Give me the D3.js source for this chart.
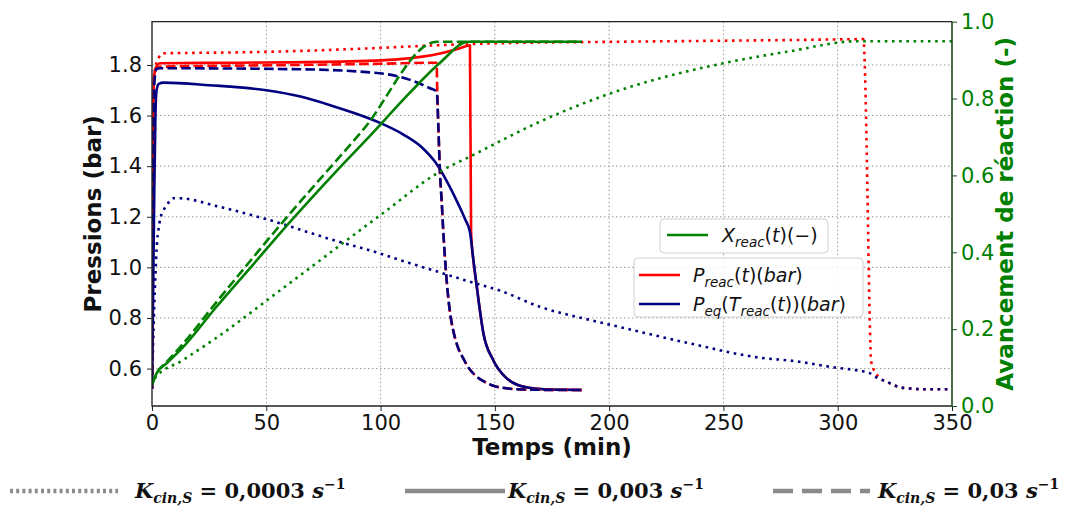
<!DOCTYPE html>
<html><head><meta charset="utf-8">
<script src="https://cdn.jsdelivr.net/npm/d3@7"></script>
<style>body{margin:0;background:#fff}svg{display:block}</style>
</head><body><svg id="c" width="1067" height="508"></svg>
<script>
// ---------- DATA ----------
const xTicks = [0, 50, 100, 150, 200, 250, 300, 350];
const yLeftTicks = [0.6, 0.8, 1.0, 1.2, 1.4, 1.6, 1.8];
const yRightTicks = [0.0, 0.2, 0.4, 0.6, 0.8, 1.0];
const kLabels = ["0,0003", "0,003", "0,03"];

// P_reac, K = 0.0003 (red dotted)  [t (min), P (bar)]
const preac_0003 = [[0,0.52],[0.3,1.2],[0.6,1.7],[1.5,1.79],[3,1.83],[5,1.846],[20,1.848],[40,1.85],[96,1.866],[125,1.878],[152,1.886],[196,1.891],[240,1.895],[284,1.899],[311.2,1.902],[312,1.75],[313,1.30],[314,0.80],[314.6,0.63],[316.3,0.587],[318,0.566],[321.4,0.548],[327.3,0.526],[333,0.52],[338.9,0.518],[350,0.518]];
// P_eq, K = 0.0003 (navy dotted)
const peq_0003 = [[0,0.52],[0.5,0.7],[1,0.85],[1.5,0.97],[2,1.07],[3,1.16],[3.5,1.187],[5,1.225],[6.4,1.245],[9.3,1.273],[12,1.273],[28.3,1.242],[50.2,1.19],[79.3,1.108],[99.75,1.055],[108.5,1.029],[127.4,0.976],[139.1,0.943],[152.25,0.908],[169.75,0.844],[191.6,0.792],[204.75,0.764],[235,0.70],[266,0.643],[280.6,0.63],[299.6,0.603],[309.75,0.591],[314,0.582],[317,0.565],[321.4,0.548],[327.3,0.526],[333,0.52],[338.9,0.518],[350,0.518]];
// P_reac, K = 0.003 (red solid)
const preac_003 = [[0,0.52],[0.3,1.2],[0.6,1.65],[1,1.76],[2,1.795],[3.5,1.807],[38.5,1.809],[82.25,1.813],[108.5,1.823],[126,1.845],[130.4,1.855],[134.75,1.866],[139.1,1.878],[139.6,1.14],[140.6,1.029],[142.1,0.923],[145,0.739],[149.3,0.633],[155.2,0.561],[160,0.535],[165,0.524],[170,0.519],[180,0.516],[188,0.515]];
// P_eq, K = 0.003 (navy solid)
const peq_003 = [[0,0.52],[0.5,0.9],[1,1.3],[1.5,1.6],[2,1.70],[3,1.725],[5,1.73],[25,1.72],[50,1.70],[65,1.675],[80,1.635],[90,1.605],[100,1.57],[110,1.525],[118,1.475],[124,1.415],[129,1.34],[134,1.25],[137,1.19],[139.1,1.14],[140.6,1.029],[142.1,0.923],[145,0.739],[149.3,0.633],[155.2,0.561],[160,0.535],[165,0.524],[170,0.519],[180,0.516],[188,0.515]];
// P_reac, K = 0.03 (red dashed)
const preac_03 = [[0,0.52],[0.3,1.2],[0.6,1.65],[1,1.76],[2,1.79],[3.5,1.793],[64,1.80],[100,1.805],[124.5,1.809],[124.8,1.70],[125.3,1.55],[126,1.372],[126.7,1.266],[127.4,1.148],[128.9,0.95],[130.4,0.82],[131.8,0.75],[134,0.68],[136.2,0.64],[138,0.61],[141.3,0.574],[145,0.55],[150,0.53],[155,0.522],[160,0.518],[170,0.516],[188,0.515]];
// P_eq, K = 0.03 (navy dashed)
const peq_03 = [[0,0.52],[0.3,1.0],[0.6,1.5],[1,1.72],[1.5,1.77],[2,1.785],[3.5,1.787],[64.75,1.783],[99.75,1.767],[112.9,1.741],[121.6,1.708],[124.6,1.694],[125.3,1.55],[126,1.372],[126.7,1.266],[127.4,1.148],[128.9,0.95],[130.4,0.82],[131.8,0.75],[134,0.68],[136.2,0.64],[138,0.61],[141.3,0.574],[145,0.55],[150,0.53],[155,0.522],[160,0.518],[170,0.516],[188,0.515]];
// X_reac (right axis)
const x_0003 = [[0,0.055],[0.6,0.068],[13.7,0.12],[28.3,0.178],[57.4,0.307],[100,0.497],[126,0.61],[139.1,0.649],[169.75,0.74],[198.9,0.81],[250,0.892],[279,0.923],[308.3,0.949],[350,0.949]];
const x_003 = [[0,0.055],[2,0.085],[6.4,0.111],[13.7,0.154],[28.3,0.259],[42.9,0.359],[60.4,0.479],[80.8,0.612],[96.8,0.712],[112,0.81],[126,0.893],[138.5,0.948],[188,0.948]];
const x_03 = [[0,0.055],[2,0.085],[6,0.112],[13,0.158],[28.3,0.271],[57.4,0.48],[92.4,0.719],[124.6,0.948],[188,0.948]];

// ---------- LAYOUT ----------
const W = 1067, H = 508;
const L = 152, R = 952, T = 21.7, B = 406;
const RED = "#ff0000", NAVY = "#000080", GREEN = "#008000";
const LW = 2.6;
const styles = { dot: "2.6,4.6", solid: null, dash: "9.6,4.2" };

const svg = d3.select("#c");
svg.append("rect").attr("width", W).attr("height", H).attr("fill", "#fff");

const x = d3.scaleLinear().domain([0, 350]).range([L, R]);
const yL = d3.scaleLinear().domain([0.452, 1.971]).range([B, T]);
const yR = d3.scaleLinear().domain([0, 1]).range([B, T]);

// grid
const grid = svg.append("g").attr("stroke", "#9a9a9a").attr("stroke-width", 1).attr("stroke-dasharray", "1.5,2.5");
grid.selectAll("line.v").data(xTicks).join("line").attr("class","v")
  .attr("x1", d => x(d)).attr("x2", d => x(d)).attr("y1", T).attr("y2", B);
grid.selectAll("line.h").data(yLeftTicks).join("line").attr("class","h")
  .attr("x1", L).attr("x2", R).attr("y1", d => yL(d)).attr("y2", d => yL(d));

svg.append("defs").append("clipPath").attr("id", "clip")
  .append("rect").attr("x", L).attr("y", T).attr("width", R - L).attr("height", B - T);

const plot = svg.append("g").attr("clip-path", "url(#clip)");
const series = [
  { d: preac_0003, c: RED, s: "dot", y: yL },
  { d: peq_0003, c: NAVY, s: "dot", y: yL },
  { d: preac_003, c: RED, s: "solid", y: yL },
  { d: peq_003, c: NAVY, s: "solid", y: yL },
  { d: preac_03, c: RED, s: "dash", y: yL },
  { d: peq_03, c: NAVY, s: "dash", y: yL },
  { d: x_0003, c: GREEN, s: "dot", y: yR },
  { d: x_003, c: GREEN, s: "solid", y: yR },
  { d: x_03, c: GREEN, s: "dash", y: yR },
];
series.forEach(sr => {
  const line = d3.line().x(p => x(p[0])).y(p => sr.y(p[1])).curve(d3.curveMonotoneX);
  plot.append("path").attr("d", line(sr.d)).attr("fill", "none")
    .attr("stroke", sr.c).attr("stroke-width", LW)
    .attr("stroke-dasharray", styles[sr.s]).attr("stroke-linejoin", "round");
});

// axes
const FONT = "'DejaVu Sans', sans-serif";
const fmt = d3.format(".1f");
const axB = svg.append("g").attr("transform", `translate(0,${B})`)
  .call(d3.axisBottom(x).tickValues(xTicks).tickSize(5).tickPadding(4).tickFormat(d3.format("d")));
const axL = svg.append("g").attr("transform", `translate(${L},0)`)
  .call(d3.axisLeft(yL).tickValues(yLeftTicks).tickSize(5).tickPadding(5).tickFormat(fmt));
const axR = svg.append("g").attr("transform", `translate(${R},0)`)
  .call(d3.axisRight(yR).tickValues(yRightTicks).tickSize(5).tickPadding(4).tickFormat(fmt));
[axB, axL, axR].forEach(a => {
  a.select(".domain").remove();
  a.selectAll("text").attr("font-family", FONT).attr("font-size", 21).attr("fill", "#111");
  a.selectAll("line").attr("stroke", "#222");
});
axR.selectAll("text").attr("fill", GREEN);
axR.selectAll("line").attr("stroke", "#1f4f1f");

// spines
svg.append("path").attr("d", `M${R},${T}H${L}V${B}H${R}`).attr("fill", "none").attr("stroke", "#222").attr("stroke-width", 1.3);
svg.append("line").attr("x1", R).attr("x2", R).attr("y1", T).attr("y2", B).attr("stroke", "#1f4f1f").attr("stroke-width", 1.6);

// axis labels
svg.append("text").attr("x", (L + R) / 2).attr("y", 455).attr("text-anchor", "middle")
  .attr("font-family", FONT).attr("font-weight", "bold").attr("font-size", 23).attr("fill", "#111").text("Temps (min)");
svg.append("text").attr("transform", `translate(101,${(T + B) / 2}) rotate(-90)`).attr("text-anchor", "middle")
  .attr("font-family", FONT).attr("font-weight", "bold").attr("font-size", 23).attr("fill", "#111").text("Pressions (bar)");
svg.append("text").attr("transform", `translate(1013,${(T + B) / 2}) rotate(-90)`).attr("text-anchor", "middle")
  .attr("font-family", FONT).attr("font-weight", "bold").attr("font-size", 23).attr("fill", GREEN).text("Avancement de réaction (-)");

// legends
function mathText(g, xx, yy, parts) {
  const t = g.append("text").attr("x", xx).attr("y", yy).attr("font-family", FONT).attr("font-size", 19).attr("fill", "#111");
  let shift = 0;
  parts.forEach(p => {
    const ts = t.append("tspan").text(p.t);
    if (p.i) ts.attr("font-style", "italic");
    const want = p.sub ? 5 : 0;
    if (want !== shift) { ts.attr("dy", want - shift); shift = want; }
    if (p.sub) ts.attr("font-size", 13.5);
  });
}
const lg = svg.append("g");
lg.append("rect").attr("x", 660).attr("y", 219).attr("width", 168).attr("height", 34).attr("rx", 4)
  .attr("fill", "#fff").attr("fill-opacity", 0.85).attr("stroke", "#d0d0d0");
lg.append("line").attr("x1", 667).attr("x2", 708).attr("y1", 235).attr("y2", 235).attr("stroke", GREEN).attr("stroke-width", LW);
mathText(lg, 722, 242, [{t:"X",i:1},{t:"reac",i:1,sub:1},{t:"("},{t:"t",i:1},{t:")(−)"}]);

lg.append("rect").attr("x", 634).attr("y", 258).attr("width", 229).attr("height", 59).attr("rx", 4)
  .attr("fill", "#fff").attr("fill-opacity", 0.85).attr("stroke", "#d0d0d0");
lg.append("line").attr("x1", 639).attr("x2", 680).attr("y1", 275).attr("y2", 275).attr("stroke", RED).attr("stroke-width", LW);
mathText(lg, 693, 282, [{t:"P",i:1},{t:"reac",i:1,sub:1},{t:"("},{t:"t",i:1},{t:")("},{t:"bar",i:1},{t:")"}]);
lg.append("line").attr("x1", 639).attr("x2", 680).attr("y1", 304).attr("y2", 304).attr("stroke", NAVY).attr("stroke-width", LW);
mathText(lg, 693, 311, [{t:"P",i:1},{t:"eq",i:1,sub:1},{t:"("},{t:"T",i:1},{t:"reac",i:1,sub:1},{t:"("},{t:"t",i:1},{t:"))("},{t:"bar",i:1},{t:")"}]);

// bottom legend (line styles)
const SERIF = "'DejaVu Serif', serif";
const bl = svg.append("g");
const bItems = [
  { x1: 10, x2: 118, tx: 135, dash: "3,3.2", k: kLabels[0] },
  { x1: 405, x2: 505, tx: 508, dash: null, k: kLabels[1] },
  { x1: 773, x2: 870, tx: 878, dash: "20,9", k: kLabels[2] },
];
bItems.forEach(it => {
  bl.append("line").attr("x1", it.x1).attr("x2", it.x2).attr("y1", 491).attr("y2", 491)
    .attr("stroke", "#8a8a8a").attr("stroke-width", 4.5).attr("stroke-dasharray", it.dash);
  const t = bl.append("text").attr("x", it.tx).attr("y", 498).attr("font-family", SERIF)
    .attr("font-weight", "bold").attr("font-size", 21).attr("fill", "#111");
  t.append("tspan").attr("font-style", "italic").text("K");
  t.append("tspan").attr("font-style", "italic").attr("font-size", 14).attr("dy", 5).text("cin,S");
  t.append("tspan").attr("dy", -5).text(" = " + it.k + " ");
  t.append("tspan").attr("font-style", "italic").text("s");
  t.append("tspan").attr("font-size", 14).attr("dy", -9).text("−1");
});
</script>
</body></html>
